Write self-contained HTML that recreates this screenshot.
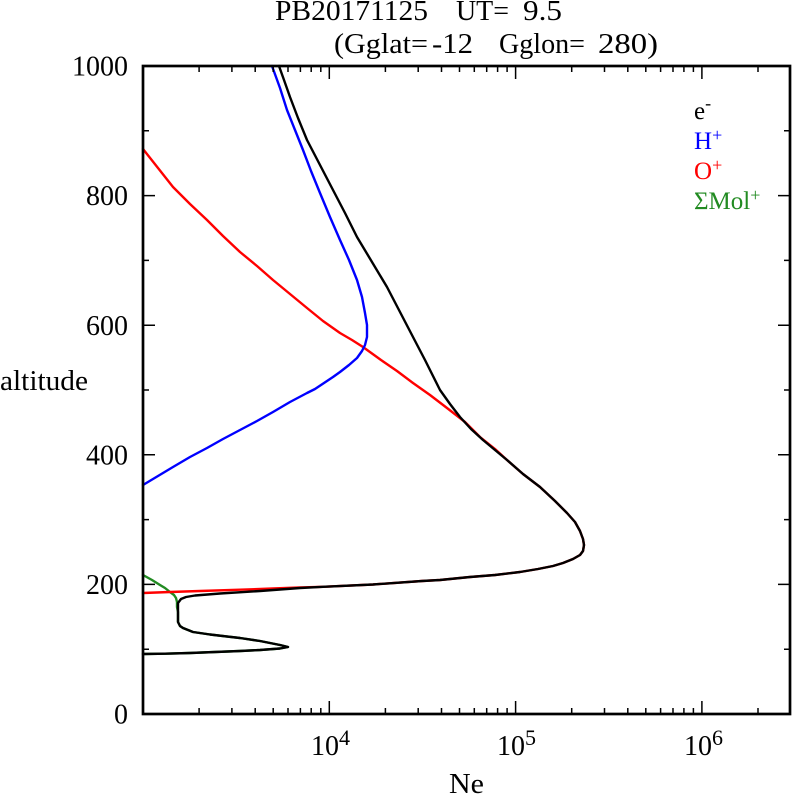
<!DOCTYPE html>
<html>
<head>
<meta charset="utf-8">
<style>
  html, body { margin: 0; padding: 0; background: #ffffff; }
  svg { display: block; }
  text { font-family: "Liberation Serif", "DejaVu Serif", serif; }
</style>
</head>
<body>
<svg width="792" height="795" viewBox="0 0 792 795" xmlns="http://www.w3.org/2000/svg">
  <rect x="0" y="0" width="792" height="795" fill="#ffffff"/>

  <!-- Title -->
  <text x="275" y="20" font-size="28" textLength="153" lengthAdjust="spacingAndGlyphs">PB20171125</text>
  <text x="456" y="20" font-size="28" textLength="53" lengthAdjust="spacingAndGlyphs">UT=</text>
  <text x="523" y="20" font-size="28" textLength="39" lengthAdjust="spacingAndGlyphs">9.5</text>
  <text x="334" y="53" font-size="28" textLength="94" lengthAdjust="spacingAndGlyphs">(Gglat=</text>
  <text x="432" y="53" font-size="28" textLength="41" lengthAdjust="spacingAndGlyphs">-12</text>
  <text x="499" y="53" font-size="28" textLength="86" lengthAdjust="spacingAndGlyphs">Gglon=</text>
  <text x="598" y="53" font-size="28" textLength="60" lengthAdjust="spacingAndGlyphs">280)</text>

  <!-- Curves -->
  <g fill="none" stroke-linejoin="round" stroke-linecap="round">
    <polyline stroke="#228b22" stroke-width="2.4" points="143,575 152,580 160,585 165,588 170,592 174,595 176,598 177,602 177,607 178,612 178,622 180,626 183,628 188,630 193,632 210,634.5 240,638 260,641 280,645 288,647 280,648.5 260,650 240,651 215,652 190,653 165,653.7 143,654"/>
    <polyline stroke="#ff0000" stroke-width="2.4" points="143,149 158,168 173,187 190,204 207,220 223,236 240,252 257,266 273,280 290,294 307,308 323,321 340,333 352,340 363,347 381,360 397,371 413,383 430,395 447,408 465,422 480,437 495,449 507,460 523,474 540,487 555,501 567,513 575,522 580,531 583,539 584,545 583,551 580,555 573,559 563,563 553,566 538,569 520,572 495,575 470,577 440,580 422,581 373,584.5 323,586.8 300,587.5 273,588.5 240,589.7 200,591 170,592 143,593"/>
    <polyline stroke="#0000ff" stroke-width="2.4" points="272,66 280,88 287,110 295,130 303,150 311,171 320,193 330,217 340,240 349,260 357,280 362,297 365,313 367,325 367,337 365,345 362,351 357,358 349,365 340,372 333,377 315,389 307,393 290,402 273,412 257,421 240,430 223,439 207,448 190,457 173,467 158,476 143,485"/>
    <polyline stroke="#000000" stroke-width="2.4" points="279,66 284,80 290,97 298,118 307,140 320,165 333,190 345,213 357,237 372,262 387,287 400,312 413,337 425,360 440,390 450,404 460,417 471,429 483,440 495,450 507,460 523,474 540,487 555,501 567,513 575,522 580,531 583,539 584,545 583,551 580,555 573,559 563,563 553,566 538,569 520,572 495,575 470,577 440,580 422,581 373,584.5 323,586.8 300,588 260,591 220,593.5 195,595.5 186,597 181,599 178,603 178,612 178,622 180,626 183,628 188,630 193,632 210,634.5 240,638 260,641 280,645 288,647 280,648.5 260,650 240,651 215,652 190,653 165,653.7 143,654"/>
  </g>

  <!-- Axes box -->
  <rect x="143" y="66" width="647" height="648" fill="none" stroke="#000" stroke-width="2.7"/>

  <!-- Ticks -->
  <g stroke="#000" stroke-width="1.5">
    <line x1="329.3" y1="714" x2="329.3" y2="701"/>
    <line x1="515.6" y1="714" x2="515.6" y2="701"/>
    <line x1="701.9" y1="714" x2="701.9" y2="701"/>
    <line x1="329.3" y1="66" x2="329.3" y2="79"/>
    <line x1="515.6" y1="66" x2="515.6" y2="79"/>
    <line x1="701.9" y1="66" x2="701.9" y2="79"/>
    <path d="M199.1 714v-6M231.9 714v-6M255.2 714v-6M273.2 714v-6M288 714v-6M300.4 714v-6M311.2 714v-6M320.8 714v-6
             M385.4 714v-6M418.2 714v-6M441.5 714v-6M459.5 714v-6M474.3 714v-6M486.7 714v-6M497.6 714v-6M507.1 714v-6
             M571.7 714v-6M604.5 714v-6M627.8 714v-6M645.8 714v-6M660.6 714v-6M673 714v-6M683.9 714v-6M693.4 714v-6
             M758 714v-6"/>
    <path d="M199.1 66v6M231.9 66v6M255.2 66v6M273.2 66v6M288 66v6M300.4 66v6M311.2 66v6M320.8 66v6
             M385.4 66v6M418.2 66v6M441.5 66v6M459.5 66v6M474.3 66v6M486.7 66v6M497.6 66v6M507.1 66v6
             M571.7 66v6M604.5 66v6M627.8 66v6M645.8 66v6M660.6 66v6M673 66v6M683.9 66v6M693.4 66v6
             M758 66v6"/>
    <path d="M143 584.4h12M143 454.8h12M143 325.2h12M143 195.6h12
             M790 584.4h-12M790 454.8h-12M790 325.2h-12M790 195.6h-12"/>
    <path d="M143 649.2h6M143 519.6h6M143 390h6M143 260.4h6M143 130.8h6
             M790 649.2h-6M790 519.6h-6M790 390h-6M790 260.4h-6M790 130.8h-6"/>
  </g>

  <!-- Y tick labels -->
  <g font-size="28" text-anchor="end">
    <text x="128" y="75.5">1000</text>
    <text x="128" y="205">800</text>
    <text x="128" y="335">600</text>
    <text x="128" y="464.5">400</text>
    <text x="128" y="594">200</text>
    <text x="128" y="723.5">0</text>
  </g>
  <text x="0" y="390" font-size="28" textLength="88" lengthAdjust="spacingAndGlyphs">altitude</text>

  <!-- X tick labels -->
  <g font-size="28">
    <text x="311" y="755">10</text>
    <text x="339" y="745" font-size="22">4</text>
    <text x="497" y="755">10</text>
    <text x="525" y="745" font-size="22">5</text>
    <text x="684" y="755">10</text>
    <text x="712" y="745" font-size="22">6</text>
  </g>
  <text x="449" y="793" font-size="28" textLength="35" lengthAdjust="spacingAndGlyphs">Ne</text>

  <!-- Legend -->
  <g font-size="25">
    <text x="694" y="119" fill="#000000">e<tspan font-size="18" dy="-10">-</tspan></text>
    <text x="694" y="149" fill="#0000ff">H<tspan font-size="18" dy="-8">+</tspan></text>
    <text x="694" y="179" fill="#ff0000">O<tspan font-size="18" dy="-8">+</tspan></text>
    <text x="694" y="209" fill="#228b22">ΣMol<tspan font-size="18" dy="-8">+</tspan></text>
  </g>
</svg>
</body>
</html>
